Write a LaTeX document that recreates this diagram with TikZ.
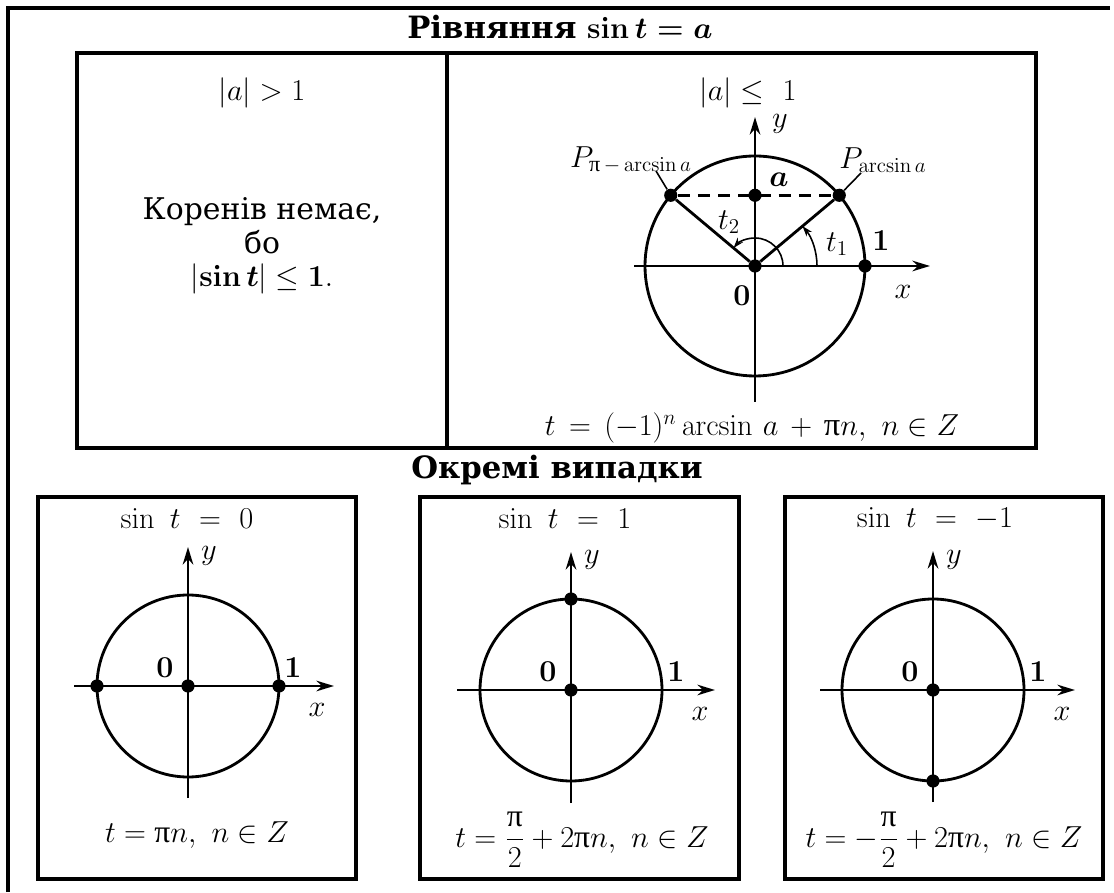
\documentclass[tikz,border=0pt]{standalone}
\usepackage[no-math]{fontspec}
\setmainfont{DejaVu Serif}
\newfontfamily\pifont{Liberation Serif}
\usepackage{amsmath}
\usetikzlibrary{arrows.meta}
\newcommand{\rpi}{\text{\pifont π}}

\begin{document}
\begin{tikzpicture}[x=0.02cm, y=0.02cm, >={Stealth[length=10pt,width=6pt]},
  frame/.style={line width=1.8pt},
  ring/.style={line width=1.6pt},
  axis/.style={line width=1.6pt, ->},
  angarc/.style={line width=0.9pt, -{Stealth[length=6pt,width=4pt]}},
  dot/.style={circle, fill, inner sep=0pt, minimum size=7.5pt},
  lbl/.style={font=\fontsize{18}{21}\selectfont, inner sep=1pt},
  head/.style={font=\fontsize{17.5}{21}\selectfont\bfseries\boldmath, inner sep=1pt}]
\useasboundingbox (0,0) rectangle (1114,892);

% outer frame, open to the right and below
\draw[line width=2.2pt] (8,0) -- (8,884) -- (1110,884);
\node[head] (title) at (560,865) {Рівняння $\mathbf{sin}\,t = a$};

% case |a| > 1
\draw[frame] (77,444) rectangle (447,839);
\node[lbl] (big) at (262,799) {$|a| > 1$};
\node[lbl, align=center, font=\fontsize{17}{19}\selectfont, inner sep=0pt] (noroot) at (262,646)
  {Коренів немає,\\бо\\$\lvert\mathbf{sin}\,\boldsymbol{t}\rvert \le \mathbf{1.}$};

% case |a| <= 1
\draw[frame] (447,444) rectangle (1036,839);
\node[lbl] (small) at (748,799) {$|a| \le\ 1$};
\begin{scope}[shift={(755,626)}]
  \draw[ring] (0,0) circle (110);
  \draw[axis] (-121,0) -- (175,0);
  \draw[axis] (0,-136) -- (0,149);
  \node[dot] (o0) at (0,0) {};
  \node[dot] (p1) at (40:110) {};
  \node[dot] (p2) at (140:110) {};
  \node[dot] (pa) at (0,70.7) {};
  \node[dot] (e0) at (110,0) {};
  \draw[line width=1.5pt, dash pattern=on 7pt off 4.5pt] (p2) -- (p1);
  \draw[ring] (p2) -- (o0) -- (p1);
  \draw[angarc] (62,0) arc (0:40:62);
  \draw[angarc] (28,0) arc (0:140:28);
  \coordinate (tk1) at (106,93);
  \coordinate (tk2) at (-99,95);
  \draw[line width=0.9pt] (p1) -- (tk1);
  \draw[line width=0.9pt] (p2) -- (tk2);
  \node[lbl] (lp1) at (128,106) {$P_{\arcsin a}$};
  \node[lbl] (lp2) at (-124,106) {$P_{\rpi\,-\,\arcsin a}$};
  \node[lbl] (la) at (24,86) {$\boldsymbol{a}$};
  \node[lbl] (lt1) at (82,22) {$t_1$};
  \node[lbl] (lt2) at (-26,44) {$t_2$};
  \node[lbl] (l1) at (126,25) {$\mathbf{1}$};
  \node[lbl] (l0) at (-13,-30) {$\mathbf{0}$};
  \node[lbl] (lx) at (148,-26) {$x$};
  \node[lbl] (ly) at (25,142) {$y$};
\end{scope}
\node[lbl, font=\fontsize{18.5}{22}\selectfont] (gen) at (752,464)
  {$t\, =\, (-1)^n\arcsin\, a\, +\, \rpi n,\ n \in Z$};

\node[head] (spec) at (557,422) {Окремі випадки};

% sin t = 0
\draw[frame] (38,13) rectangle (356,395);
\node[lbl] (h1) at (187,373) {$\sin\ t\ =\ 0$};
\begin{scope}[shift={(188,206)}]
  \draw[ring] (0,0) circle (91);
  \draw[axis] (-114,0) -- (146,0);
  \draw[axis] (0,-112) -- (0,139);
  \node[dot] (q0) at (0,0) {};
  \node[dot] (q1) at (91,0) {};
  \node[dot] (q2) at (-91,0) {};
  \node[lbl] (q0l) at (-23,18) {$\mathbf{0}$};
  \node[lbl] (q1l) at (105,18) {$\mathbf{1}$};
  \node[lbl] (qx) at (129,-24) {$x$};
  \node[lbl] (qy) at (21,130) {$y$};
\end{scope}
\node[lbl] (f1) at (197,57) {$t = \rpi n,\ n \in Z$};

% sin t = 1
\draw[frame] (420,13) rectangle (739,395);
\node[lbl] (h2) at (565,373) {$\sin\ t\ =\ 1$};
\begin{scope}[shift={(571,202)}]
  \draw[ring] (0,0) circle (91);
  \draw[axis] (-114,0) -- (144,0);
  \draw[axis] (0,-113) -- (0,138);
  \node[dot] (r0) at (0,0) {};
  \node[dot] (r1) at (0,91) {};
  \node[lbl] (r0l) at (-23,18) {$\mathbf{0}$};
  \node[lbl] (r1l) at (105,18) {$\mathbf{1}$};
  \node[lbl] (rx) at (129,-24) {$x$};
  \node[lbl] (ry) at (21,130) {$y$};
\end{scope}
\node[lbl] (f2) at (582,52) {$t = \dfrac{\rpi}{2} + 2\rpi n,\ n \in Z$};

% sin t = -1
\draw[frame] (785,13) rectangle (1103,395);
\node[lbl] (h3) at (935,373) {$\sin\ t\ =\ -1$};
\begin{scope}[shift={(933,202)}]
  \draw[ring] (0,0) circle (91);
  \draw[axis] (-113,0) -- (142,0);
  \draw[axis] (0,-112) -- (0,139);
  \node[dot] (s0) at (0,0) {};
  \node[dot] (s1) at (0,-91) {};
  \node[lbl] (s0l) at (-23,18) {$\mathbf{0}$};
  \node[lbl] (s1l) at (105,18) {$\mathbf{1}$};
  \node[lbl] (sx) at (129,-24) {$x$};
  \node[lbl] (sy) at (21,130) {$y$};
\end{scope}
\node[lbl] (f3) at (944,52) {$t = -\dfrac{\rpi}{2} + 2\rpi n,\ n \in Z$};
\end{tikzpicture}
\end{document}
